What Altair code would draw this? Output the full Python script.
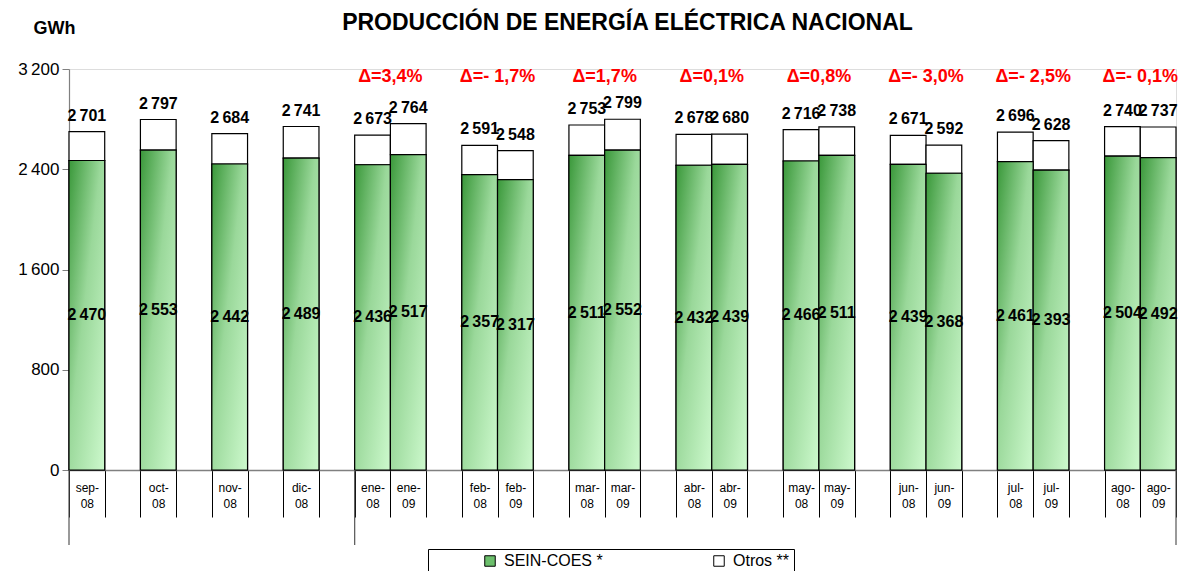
import altair as alt
import pandas as pd

# ---------------- data ----------------
slots = ["sep-08", "_1", "oct-08", "_2", "nov-08", "_3", "dic-08", "_4",
         "ene-08", "ene-09", "_5", "feb-08", "feb-09", "_6", "mar-08", "mar-09", "_7",
         "abr-08", "abr-09", "_8", "may-08", "may-09", "_9", "jun-08", "jun-09", "_10",
         "jul-08", "jul-09", "_11", "ago-08", "ago-09"]
periods = ["sep-08", "oct-08", "nov-08", "dic-08", "ene-08", "ene-09", "feb-08", "feb-09",
           "mar-08", "mar-09", "abr-08", "abr-09", "may-08", "may-09", "jun-08", "jun-09",
           "jul-08", "jul-09", "ago-08", "ago-09"]
sein = [2470, 2553, 2442, 2489, 2436, 2517, 2357, 2317, 2511, 2552,
        2432, 2439, 2466, 2511, 2439, 2368, 2461, 2393, 2504, 2492]
total = [2701, 2797, 2684, 2741, 2673, 2764, 2591, 2548, 2753, 2799,
         2678, 2680, 2716, 2738, 2671, 2592, 2696, 2628, 2740, 2737]
delta_periods = ["ene-09", "feb-09", "mar-09", "abr-09", "may-09", "jun-09", "jul-09", "ago-09"]
delta_labels = ["Δ=3,4%", "Δ=- 1,7%", "Δ=1,7%", "Δ=0,1%", "Δ=0,8%", "Δ=- 3,0%", "Δ=- 2,5%", "Δ=- 0,1%"]
series = ["SEIN-COES *", "Otros **"]
series_colors = ["#6cbf6c", "#ffffff"]
y_ticks = [0, 800, 1600, 2400, 3200]

THIN = "\u2009"


def fmt(v):
    return f"{v:,}".replace(",", THIN)


df = pd.DataFrame({"periodo": periods, "sein": sein, "total": total})
df["sein_mid"] = df["sein"] / 2
df["sein_lbl"] = [fmt(v) for v in sein]
df["total_lbl"] = [fmt(v) for v in total]

long = pd.concat([
    pd.DataFrame({"periodo": periods, "serie": series[0], "y0": 0, "y1": sein}),
    pd.DataFrame({"periodo": periods, "serie": series[1], "y0": sein, "y1": total}),
])

ddf = pd.DataFrame({"periodo": delta_periods, "lbl": delta_labels})

FONT = "Liberation Sans"

x_axis = alt.Axis(
    title=None, tickBand="extent", labelAngle=0, labelOverlap=False,
    labelExpr="indexof(datum.label, '_') == 0 ? '' : [slice(datum.label, 0, 4), slice(datum.label, 4)]",
    labelFont=FONT, labelFontSize=12, labelColor="black", labelLineHeight=16,
    labelBaseline="top", labelAlign="center", labelPadding=-35,
    tickSize=47, tickColor="black", tickWidth=1,
    domainColor="#808080", domainWidth=1.5,
)
x_scale = alt.Scale(domain=slots, paddingInner=0, paddingOuter=0)


def X(band=0.5):
    return alt.X("periodo:N", scale=x_scale, axis=x_axis, bandPosition=band, sort=None)


y_scale = alt.Scale(domain=[0, 3200], nice=False)
y_axis = alt.Axis(
    values=y_ticks, grid=False, title="GWh", titleAngle=0, titleFont=FONT, titleFontSize=18,
    titleFontWeight="bold", titleColor="black", titleAlign="left", titleBaseline="middle",
    titleX=-36, titleY=-41,
    labelExpr="replace(format(datum.value, ','), ',', '\u2009')",
    labelFont=FONT, labelFontSize=17, labelColor="black", labelPadding=3,
    tickSize=7, tickColor="#808080", domainColor="#808080", domainWidth=1.2,
)

gradient = alt.LinearGradient(
    gradient="linear",
    stops=[alt.GradientStop(color="#3a983a", offset=0),
           alt.GradientStop(color="#9ad89a", offset=0.45),
           alt.GradientStop(color="#cdf9cd", offset=1)],
    x1=0, y1=0, x2=1, y2=1,
)

base_bars = alt.Chart(long).mark_bar(stroke="black", strokeWidth=1.2).encode(
    x=X(),
    y=alt.Y("y0:Q", scale=y_scale, axis=y_axis),
    y2="y1:Q",
    color=alt.Color("serie:N", scale=alt.Scale(domain=series, range=series_colors),
                    legend=alt.Legend(
                        orient="none", legendX=359, legendY=480, direction="horizontal",
                        columns=2, title=None, symbolType="square", symbolSize=110,
                        symbolStrokeColor="black", symbolStrokeWidth=1, symbolOffset=50,
                        labelFont=FONT, labelFontSize=16, labelColor="black",
                        labelOffset=6, columnPadding=58, padding=4,
                        strokeColor="black", fillColor="white")),
)

green_bars = alt.Chart(df).mark_bar(color=gradient, stroke="black", strokeWidth=1.2).encode(
    x=X(),
    y=alt.Y("sein:Q", scale=y_scale, axis=y_axis),
)

total_text = alt.Chart(df).mark_text(
    font=FONT, fontSize=16, fontWeight="bold", color="black", baseline="alphabetic", dy=-11
).encode(x=X(), y=alt.Y("total:Q", scale=y_scale), text="total_lbl:N")

mid_text = alt.Chart(df).mark_text(
    font=FONT, fontSize=16, fontWeight="bold", color="black", baseline="middle"
).encode(x=X(), y=alt.Y("sein_mid:Q", scale=y_scale), text="sein_lbl:N")

delta_text = alt.Chart(ddf).mark_text(
    font=FONT, fontSize=18, fontWeight="bold", color="#ff0000", baseline="middle"
).encode(x=X(0), y=alt.value(8), text="lbl:N")

rules_start = alt.Chart(pd.DataFrame({"periodo": ["sep-08", "ene-08"]})).mark_rule(
    color="#555555", strokeWidth=1.2
).encode(x=X(0), y=alt.value(401), y2=alt.value(476))

rules_end = alt.Chart(pd.DataFrame({"periodo": ["ago-09"]})).mark_rule(
    color="#555555", strokeWidth=1.2
).encode(x=X(1), y=alt.value(401), y2=alt.value(476))

chart = alt.layer(
    base_bars, green_bars, total_text, mid_text, delta_text, rules_start, rules_end
).properties(
    width=1107, height=401,
    padding={"left": 61, "top": 61, "right": 11, "bottom": 101},
    autosize=alt.AutoSizeParams(type="none"),
    title=alt.TitleParams(
        "PRODUCCIÓN DE ENERGÍA ELÉCTRICA NACIONAL", font=FONT, fontSize=23,
        fontWeight="bold", color="black", anchor="middle", frame="group", offset=0,
        dx=5, dy=16),
).configure_view(stroke=None).configure(background="white")

chart.save("out.html", embed_options={"renderer": "svg", "actions": False})
